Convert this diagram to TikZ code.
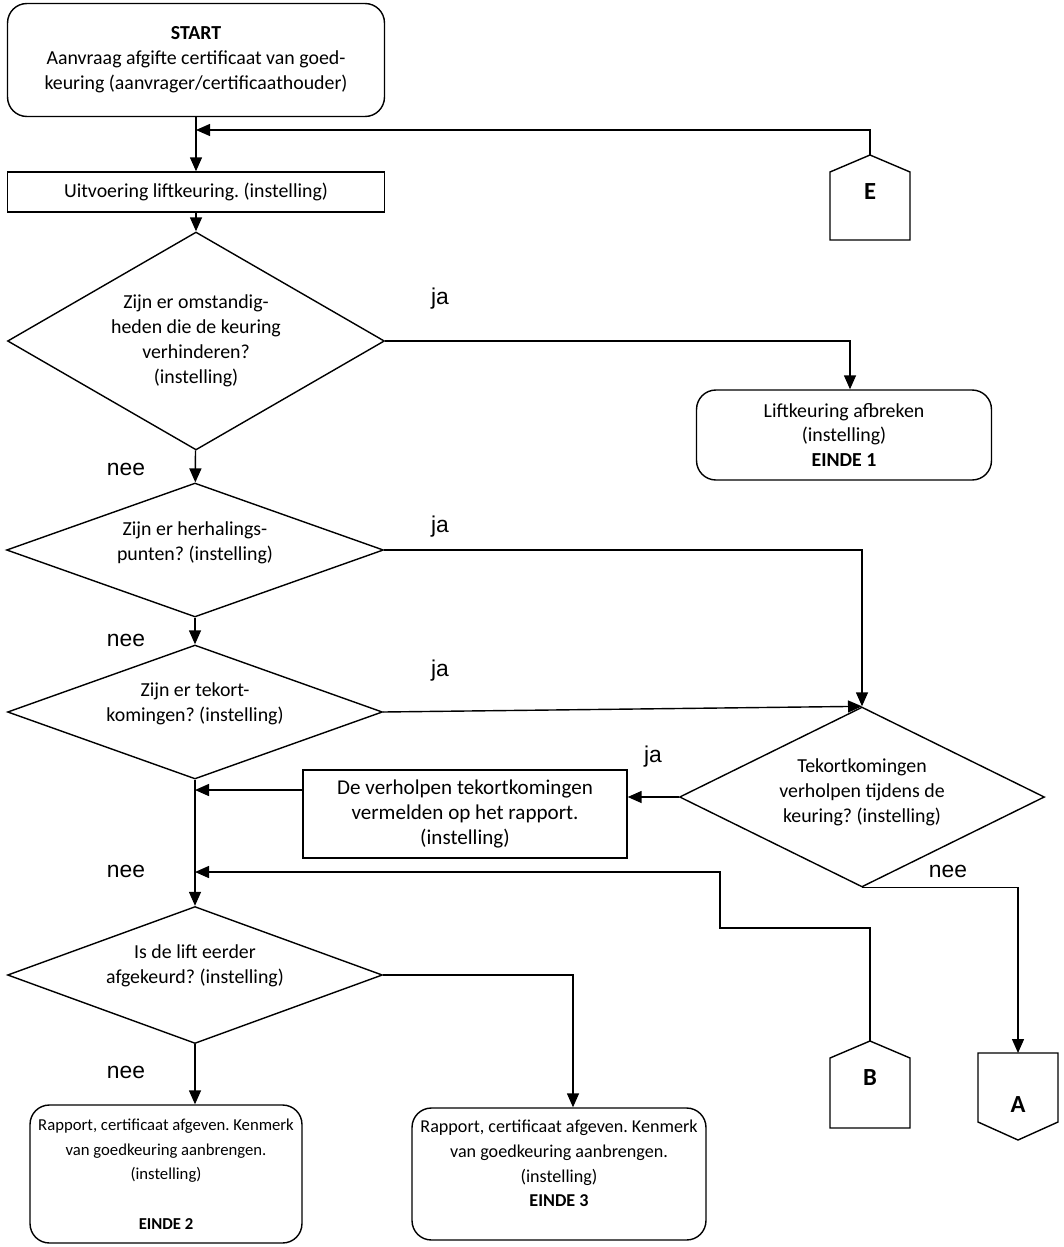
\documentclass[tikz,border=0pt]{standalone}
\usepackage{fontspec}
\setmainfont{Carlito}
\newfontfamily\arialfont{Liberation Sans}
\usepackage{tikz}
\usetikzlibrary{arrows.meta, positioning, shapes.geometric, calc}
\frenchspacing

\begin{document}
\begin{tikzpicture}[
    x=0.02cm, y=-0.02cm,
    font=\fontsize{11.3}{14.2}\selectfont,
    line width=0.8pt,
    box/.style={rectangle, draw, align=center, inner sep=2pt},
    rbox/.style={rectangle, rounded corners=11pt, draw, align=center, inner sep=2pt},
    dec/.style={diamond, draw, align=center, inner sep=0pt},
    conn/.style={font=\fontsize{14}{16}\selectfont\bfseries},
    yn/.style={font=\arialfont\fontsize{13}{15}\selectfont},
    arr/.style={-{Triangle[length=0.28cm, width=0.24cm]}},
  ]

  \useasboundingbox (0,0) rectangle (1063,1247);

  % main column
  \node[rbox, minimum width=7.54cm, minimum height=2.26cm] (start) at (196,60)
        {\textbf{START}\\Aanvraag afgifte certificaat van goed-\\keuring (aanvrager/certificaathouder)};
  \node[box, minimum width=7.54cm, minimum height=0.8cm] (uitv) at (196,192)
        {Uitvoering liftkeuring. (instelling)};
  \node[dec, minimum width=7.54cm, minimum height=4.36cm, aspect=1.73] (d1) at (196,341)
        {Zijn er omstandig-\\heden die de keuring\\verhinderen?\\(instelling)};
  \node[dec, minimum width=7.54cm, minimum height=2.68cm, aspect=2.8, text depth=0.34cm] (d2) at (195,550)
        {Zijn er herhalings-\\punten? (instelling)};
  \node[dec, minimum width=7.5cm, minimum height=2.68cm, aspect=2.8, text depth=0.38cm] (d3) at (195,712)
        {Zijn er tekort-\\komingen? (instelling)};
  \node[dec, minimum width=7.5cm, minimum height=2.74cm, aspect=2.75, text depth=0.42cm] (d4) at (195,975)
        {Is de lift eerder\\afgekeurd? (instelling)};
  \node[rbox, minimum width=5.44cm, minimum height=2.76cm,
        font=\fontsize{9.5}{14}\selectfont] (e2) at (166,1174)
        {Rapport, certificaat afgeven. Kenmerk\\van goedkeuring aanbrengen.\\(instelling)\\~\\\textbf{EINDE 2}};
  \node[rbox, minimum width=5.88cm, minimum height=2.64cm, text depth=0.42cm,
        font=\fontsize{10.3}{14}\selectfont] (e3) at (559,1174)
        {Rapport, certificaat afgeven. Kenmerk\\van goedkeuring aanbrengen.\\(instelling)\\\textbf{EINDE 3}};

  % right side
  \node[rbox, minimum width=5.9cm, minimum height=1.8cm] (lift) at (844,435)
        {Liftkeuring afbreken\\(instelling)\\\textbf{EINDE 1}};
  \node[dec, minimum width=7.3cm, minimum height=3.6cm, aspect=2, text depth=0.26cm] (d5) at (862,797)
        {Tekortkomingen\\verholpen tijdens de\\keuring? (instelling)};
  \node[box, minimum width=6.48cm, minimum height=1.76cm,
        font=\fontsize{12}{14.2}\selectfont] (verh) at (465,814)
        {De verholpen tekortkomingen\\vermelden op het rapport.\\(instelling)};

  % connectors E, B, A
  \node[conn] (E) at (870,192) {E};
  \draw (830,240) -- (830,172) -- (870,155) -- (910,172) -- (910,240) -- cycle;
  \coordinate (Etip) at (870,155);
  \node[conn] (B) at (870,1078) {B};
  \draw (830,1128) -- (830,1058) -- (870,1041) -- (910,1058) -- (910,1128) -- cycle;
  \coordinate (Btip) at (870,1041);
  \node[conn] (A) at (1018,1105) {A};
  \draw (978,1053) -- (978,1122) -- (1018,1140) -- (1058,1122) -- (1058,1053) -- cycle;
  \coordinate (Atop) at (1018,1053);

  % ja / nee
  \node[yn] (ja1) at (440,299) {ja};
  \node[yn] (ja2) at (440,527) {ja};
  \node[yn] (ja3) at (440,671) {ja};
  \node[yn] (ja4) at (653,757) {ja};
  \node[yn] (nee1) at (126,469) {nee};
  \node[yn] (nee2) at (126,640) {nee};
  \node[yn] (nee3) at (126,871) {nee};
  \node[yn] (nee4) at (126,1072) {nee};
  \node[yn] (nee5) at (948,871) {nee};

  \coordinate (ej) at (196,130);
  \coordinate (bj) at (195,872);
  \coordinate (vl) at ([yshift=0.48cm]verh.west);
  \coordinate (e3in) at ([xshift=0.28cm]e3.north);
  \coordinate (liftin) at ([xshift=0.12cm]lift.north);

  \draw[arr] (start) -- (uitv);
  \draw[arr] (Etip) |- (ej);
  \draw[arr] (uitv) -- (d1);
  \draw[arr] (d1) -- (d2);
  \draw[arr] (d2) -- (d3);
  \draw[arr] (d3.south) -- (d4.north);
  \draw[arr] (d4.south) -- (d4.south |- e2.north);
  \draw[arr] (d4.east) -| (e3in);

  \draw[arr] (d1.east) -| (liftin);
  \draw[arr] (d2.east) -| (d5.north);
  \draw[arr] (d3.east) -- (d5.north);
  \draw[arr] (d5.west) -- (d5.west -| verh.east);
  \draw[arr] (vl) -- (vl -| d3.south);
  \draw[arr] (d5.south) -| (Atop);
  \draw[arr] (Btip) -- ++(0,-113) -| ++(-150,-56) -- (bj);

\end{tikzpicture}
\end{document}
